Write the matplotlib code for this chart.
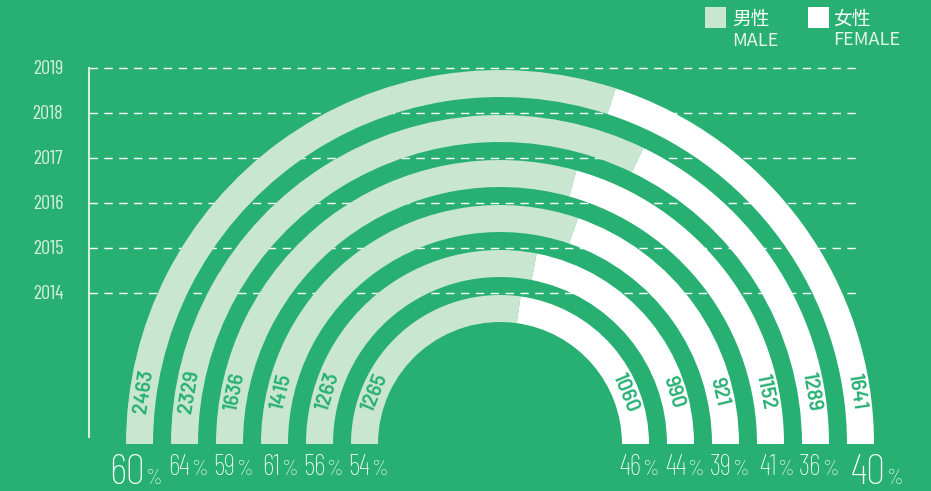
import numpy as np
import matplotlib
matplotlib.use('Agg')
import matplotlib.pyplot as plt
from matplotlib.patches import Wedge, Rectangle

# Data, innermost ring first
years = [2014, 2015, 2016, 2017, 2018, 2019]
male = [1265, 1263, 1415, 1636, 2329, 2463]
female = [1060, 990, 921, 1152, 1289, 1641]

BG = '#28B073'
MALE_C = '#C9E6D0'
FEMALE_C = '#FFFFFF'
AXIS_C = '#D6EEDD'

NUM_FONT = ['Barlow Condensed', 'DejaVu Sans']
LABEL_FONT = ['Barlow', 'DejaVu Sans']
CJK_FONT = ['Noto Sans CJK SC', 'DejaVu Sans']

# Ring geometry (pixels, centre of the rainbow at origin)
r0 = 149      # outer radius of the innermost ring
step = 45     # spacing between rings
width = 27    # ring thickness
label_arc = 53  # distance of the value label from the ring end, along the arc

fig = plt.figure(figsize=(9.31, 4.91), dpi=100)
fig.patch.set_facecolor(BG)
ax = fig.add_axes([0, 0, 1, 1])
ax.set_facecolor(BG)
ax.set_xlim(-500, 431)
ax.set_ylim(-47, 444)
ax.axis('off')

radii = [r0 + step * i for i in range(len(years))]

# Year guides and vertical axis
x_axis = -411
for yr, r in zip(years, radii):
    ax.plot([x_axis, 361], [r + 2, r + 2], color='white', lw=1.0,
            dashes=(6, 4.7), zorder=1)
    ax.text(x_axis - 41, r + 1, str(yr), color=AXIS_C, fontsize=14.5,
            family=NUM_FONT, ha='center', va='center')
ax.plot([x_axis, x_axis], [7, radii[-1] + 2], color=AXIS_C, lw=1.5, zorder=1)

for i, (yr, m, f) in enumerate(zip(years, male, female)):
    r = radii[i]
    share = m / (m + f)
    split = 180 - share * 180
    ax.add_patch(Wedge((0, 0), r, split, 180, width=width,
                       facecolor=MALE_C, edgecolor='none', zorder=2))
    ax.add_patch(Wedge((0, 0), r, 0, split, width=width,
                       facecolor=FEMALE_C, edgecolor='none', zorder=2))

    # value labels follow the arc near each end of the ring
    rm = r - width / 2
    dth = np.degrees(label_arc / rm)
    for th, val in ((180 - dth, m), (dth, f)):
        t = np.radians(th)
        ax.text(rm * np.cos(t), rm * np.sin(t), str(val), color=BG,
                fontsize=14.5, fontweight='semibold', family=LABEL_FONT,
                rotation=th - 90, rotation_mode='anchor',
                ha='center', va='center', zorder=3)

    # percentage labels under each ring end (outermost ring in bigger type)
    big = i == len(years) - 1
    num_size = 31 if big else 20.5
    y_base = -40 if big else -31
    m_pct = round(share * 100)
    f_pct = 100 - m_pct
    for xj, pct in ((-rm + (5.5 if big else 6), m_pct),
                    (rm + (25 if big else 6), f_pct)):
        ax.text(xj, y_base, str(pct), color='white', fontsize=num_size,
                family=NUM_FONT, fontweight='light', ha='right', va='baseline')
        ax.text(xj + 0.5, y_base, '%', color='white', fontsize=15,
                family=NUM_FONT, fontweight='light', ha='left', va='baseline')

# Legend
ax.add_patch(Rectangle((205, 416), 21, 21, facecolor=MALE_C, edgecolor='none'))
ax.text(232, 425, '男性', color='white', fontsize=13.5, family=CJK_FONT,
        ha='left', va='center')
ax.text(232, 403.5, 'MALE', color='#E6F4EA', fontsize=13, family=CJK_FONT,
        fontweight='light', ha='left', va='center')
ax.add_patch(Rectangle((308, 416), 21, 21, facecolor=FEMALE_C, edgecolor='none'))
ax.text(333, 425, '女性', color='white', fontsize=13.5, family=CJK_FONT,
        ha='left', va='center')
ax.text(333, 404, 'FEMALE', color='#E6F4EA', fontsize=13, family=CJK_FONT,
        fontweight='light', ha='left', va='center')

fig.savefig('out.png', dpi=100, facecolor=BG)
